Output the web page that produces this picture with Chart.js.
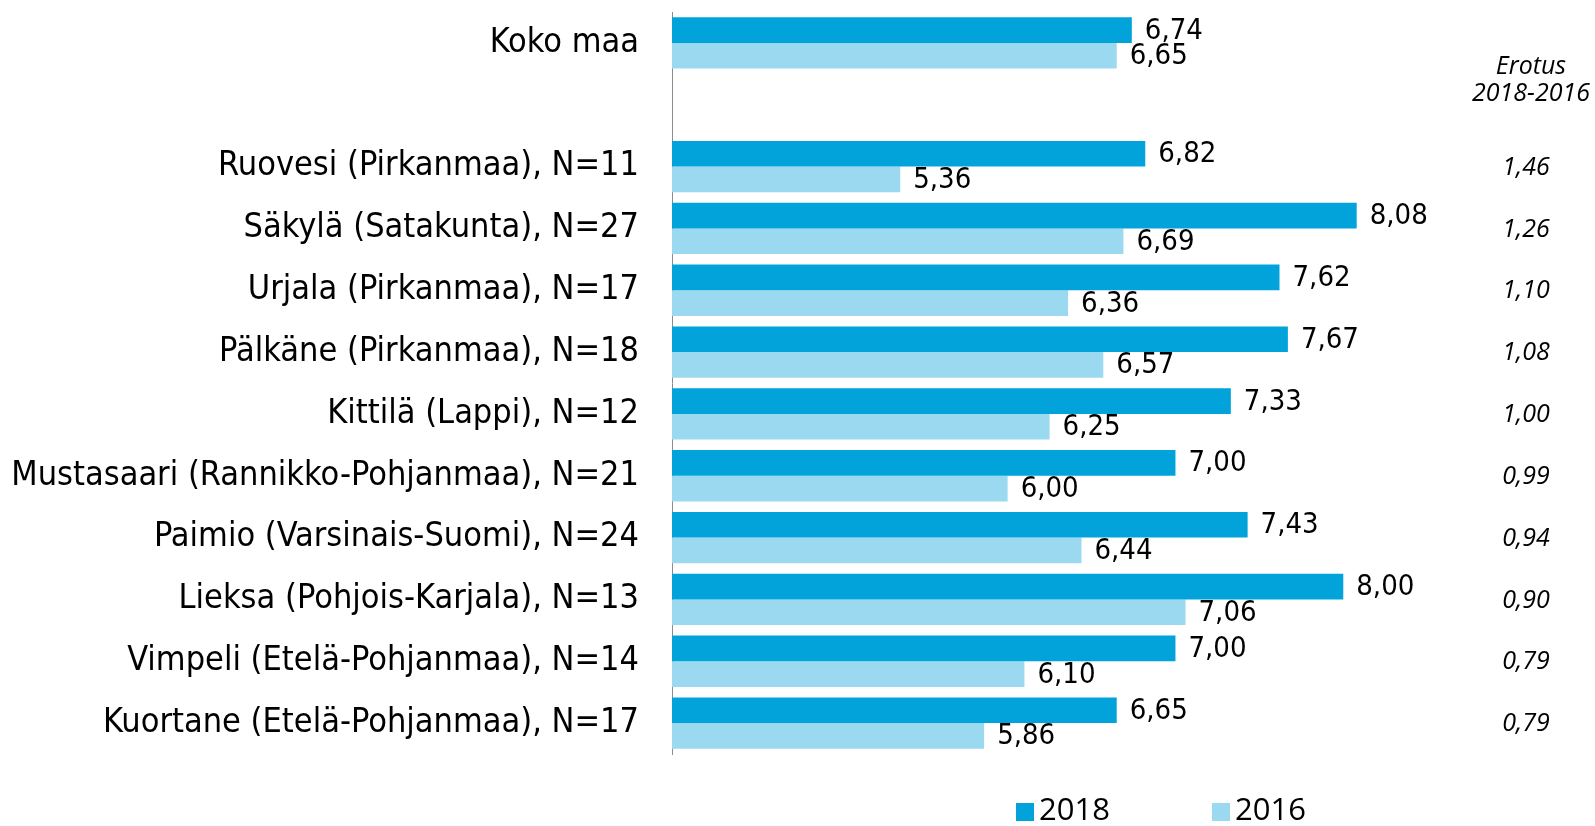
<!DOCTYPE html>
<html>
<head>
<meta charset="utf-8">
<script src="https://cdn.jsdelivr.net/npm/chart.js@4"></script>
<style>
  html, body { margin: 0; padding: 0; background: #fff; }
  #wrap { width: 1595px; height: 826px; position: relative; }
</style>
</head>
<body>
<div id="wrap"><canvas id="chart"></canvas></div>
<script>
const categories = [
  'Koko maa',
  '',
  'Ruovesi (Pirkanmaa), N=11',
  'Säkylä (Satakunta), N=27',
  'Urjala (Pirkanmaa), N=17',
  'Pälkäne (Pirkanmaa), N=18',
  'Kittilä (Lappi), N=12',
  'Mustasaari (Rannikko-Pohjanmaa), N=21',
  'Paimio (Varsinais-Suomi), N=24',
  'Lieksa (Pohjois-Karjala), N=13',
  'Vimpeli (Etelä-Pohjanmaa), N=14',
  'Kuortane (Etelä-Pohjanmaa), N=17'
];
const values2018 = [6.74, null, 6.82, 8.08, 7.62, 7.67, 7.33, 7.00, 7.43, 8.00, 7.00, 6.65];
const values2016 = [6.65, null, 5.36, 6.69, 6.36, 6.57, 6.25, 6.00, 6.44, 7.06, 6.10, 5.86];
const erotus = [null, null, 1.46, 1.26, 1.10, 1.08, 1.00, 0.99, 0.94, 0.90, 0.79, 0.79];
const erotusTitle = ['Erotus', '2018-2016'];

const fmt = v => v.toFixed(2).replace('.', ',');

const LABEL_FONT = '"DejaVu Sans Condensed", "DejaVu Sans", sans-serif';
const NOTE_FONT = '"Open Sans", sans-serif';

// value labels at the end of each bar
const barValues = {
  id: 'barValues',
  afterDatasetsDraw(chart) {
    const { ctx } = chart;
    ctx.save();
    ctx.font = '29px ' + LABEL_FONT;
    ctx.fillStyle = '#000';
    ctx.textAlign = 'left';
    ctx.textBaseline = 'middle';
    chart.data.datasets.forEach((ds, i) => {
      chart.getDatasetMeta(i).data.forEach((bar, j) => {
        const v = ds.data[j];
        if (v == null) return;
        ctx.fillText(fmt(v), bar.x + 13, bar.y + 1);
      });
    });
    ctx.restore();
  }
};

// difference column on the right and the custom legend
const sideNotes = {
  id: 'sideNotes',
  afterDraw(chart) {
    const { ctx } = chart;
    const y = chart.scales.y;
    ctx.save();
    ctx.fillStyle = '#000';
    ctx.textAlign = 'center';
    ctx.textBaseline = 'middle';
    ctx.font = 'italic 25px ' + NOTE_FONT;
    ctx.fillText(erotusTitle[0], 1531, 67);
    ctx.fillText(erotusTitle[1], 1531, 94);
    erotus.forEach((v, i) => {
      if (v == null) return;
      ctx.fillText(fmt(v), 1526, y.getPixelForValue(i) + 1);
    });

    // legend
    ctx.font = '31px ' + NOTE_FONT;
    ctx.textAlign = 'left';
    const items = [[1016, 0], [1212, 1]];
    items.forEach(([x, i]) => {
      const ds = chart.data.datasets[i];
      ctx.fillStyle = ds.backgroundColor;
      ctx.fillRect(x, 803, 18, 18);
      ctx.fillStyle = '#000';
      ctx.fillText(ds.label, x + 23, 811);
    });
    ctx.restore();
  }
};

new Chart(document.getElementById('chart'), {
  type: 'bar',
  plugins: [barValues, sideNotes],
  data: {
    labels: categories,
    datasets: [
      {
        label: '2018',
        data: values2018,
        backgroundColor: '#02a3da',
        borderWidth: 0,
        categoryPercentage: 0.83,
        barPercentage: 1
      },
      {
        label: '2016',
        data: values2016,
        backgroundColor: '#9bd9f1',
        borderWidth: 0,
        categoryPercentage: 0.83,
        barPercentage: 1
      }
    ]
  },
  options: {
    indexAxis: 'y',
    responsive: true,
    maintainAspectRatio: false,
    animation: false,
    layout: { padding: { top: 12, bottom: 72, left: 0, right: 0 } },
    plugins: {
      legend: { display: false },
      tooltip: { enabled: false }
    },
    scales: {
      x: {
        display: false,
        min: 4,
        max: 9.5
      },
      y: {
        afterFit(scale) {
          // fixed label column; tick padding should not push the plot down
          scale.width = 672;
          scale.paddingTop = 0;
          scale.paddingBottom = 0;
        },
        grid: { display: false, drawTicks: false },
        border: { display: true, color: '#8c8c8c', width: 1 },
        ticks: {
          padding: 33,
          color: '#000',
          font: { family: LABEL_FONT, size: 34 }
        }
      }
    }
  }
});
</script>
</body>
</html>
